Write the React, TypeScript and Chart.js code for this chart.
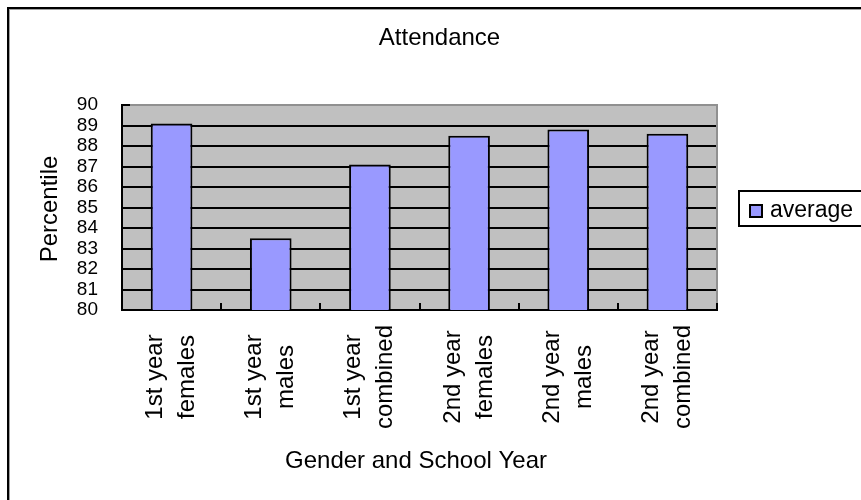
import { useEffect, useRef } from 'react';
import { Chart, registerables } from 'chart.js';

Chart.register(...registerables);

const chartTitle = 'Attendance';
const xAxisTitle = 'Gender and School Year';
const yAxisTitle = 'Percentile';
const seriesName = 'average';
const categoryLines: string[][] = [
  ['1st year', 'females'],
  ['1st year', 'males'],
  ['1st year', 'combined'],
  ['2nd year', 'females'],
  ['2nd year', 'males'],
  ['2nd year', 'combined'],
];
const averageValues = [89.1, 83.5, 87.1, 88.5, 88.8, 88.6];
const yMin = 80;
const yMax = 90;
const yStep = 1;

const FONT = '"Liberation Sans", Arial, sans-serif';
const BAR_FILL = '#9999FF';
const PLOT_BG = '#C0C0C0';
const FRAME_GRAY = '#909090';

export default function App() {
  const ref = useRef<HTMLCanvasElement>(null);

  useEffect(() => {
    const canvas = ref.current!;

    const decor = {
      id: 'decor',
      beforeDraw(chart: any) {
        const { ctx, chartArea: a } = chart;
        ctx.save();
        ctx.fillStyle = PLOT_BG;
        ctx.fillRect(a.left, a.top, a.right - a.left, a.bottom - a.top);
        ctx.restore();
      },
      afterDraw(chart: any) {
        const { ctx, chartArea: a } = chart;
        const xs = chart.scales.x;
        ctx.save();

        // page frame (left/top)
        ctx.fillStyle = '#000';
        ctx.fillRect(7, 7, 2, 493);
        ctx.fillRect(7, 7, 854, 2);
        ctx.fillStyle = '#A0A0A0';
        ctx.fillRect(9, 9, 1, 491);
        ctx.fillRect(9, 9, 852, 1);

        // right frame of plot (gray)
        ctx.fillStyle = FRAME_GRAY;
        ctx.fillRect(a.right - 1, a.top - 1, 2, a.bottom - a.top);

        // inward tick at top of value axis
        ctx.fillStyle = '#000';
        ctx.fillRect(a.left, a.top - 1, 8, 2);

        // inward category boundary ticks
        const half = (xs.getPixelForValue(1) - xs.getPixelForValue(0)) / 2;
        for (let i = 0; i < categoryLines.length; i++) {
          const bx = xs.getPixelForValue(i) + half;
          ctx.fillRect(Math.round(bx) - 1, a.bottom - 7, 2, 7);
        }

        ctx.fillStyle = '#000';
        // chart title
        ctx.font = `24px ${FONT}`;
        ctx.textAlign = 'center';
        ctx.textBaseline = 'alphabetic';
        ctx.fillText(chartTitle, 439.5, 45);

        // x axis title
        ctx.fillText(xAxisTitle, (a.left + a.right) / 2 - 3.5, 468);

        // y axis title
        ctx.save();
        ctx.translate(57, (a.top + a.bottom) / 2 + 1.5);
        ctx.rotate(-Math.PI / 2);
        ctx.fillText(yAxisTitle, 0, 0);
        ctx.restore();

        // category labels, rotated, lines centered
        const labelCenterY = 377;
        categoryLines.forEach((lines, i) => {
          const c = xs.getPixelForValue(i);
          lines.forEach((line, j) => {
            ctx.save();
            ctx.translate(c - 9.5 + j * 32, labelCenterY);
            ctx.rotate(-Math.PI / 2);
            ctx.fillText(line, 0, 0);
            ctx.restore();
          });
        });

        // legend
        const ds = chart.data.datasets[0];
        ctx.lineWidth = 2;
        ctx.strokeStyle = '#000';
        ctx.strokeRect(739, 191, 140, 35);
        ctx.fillStyle = ds.backgroundColor;
        ctx.fillRect(750, 205, 12, 12);
        ctx.strokeRect(750, 205, 12, 12);
        ctx.fillStyle = '#000';
        ctx.font = `23px ${FONT}`;
        ctx.textAlign = 'left';
        ctx.fillText(ds.label, 770, 217);

        ctx.restore();
      },
    };

    const chart = new Chart(canvas, {
      type: 'bar',
      data: {
        labels: categoryLines.map((l) => l.join(' ')),
        datasets: [
          {
            label: seriesName,
            data: averageValues,
            backgroundColor: BAR_FILL,
            borderColor: '#000',
            borderWidth: 2,
            borderSkipped: false,
            barPercentage: 0.42,
            categoryPercentage: 1,
          },
        ],
      },
      options: {
        responsive: false,
        animation: false,
        layout: { padding: { left: 0, top: 105, right: 144, bottom: 0 } },
        plugins: {
          legend: { display: false },
          title: { display: false },
          tooltip: { enabled: false },
        },
        scales: {
          x: {
            grid: { display: false },
            border: { display: true, color: '#000', width: 2 },
            ticks: { display: false },
            afterFit(scale: any) {
              scale.height = 190;
              scale.paddingLeft = 0;
              scale.paddingRight = 0;
            },
          },
          y: {
            min: yMin,
            max: yMax,
            grid: {
              drawTicks: false,
              color: (ctx: any) => (ctx.tick && ctx.tick.value === yMax ? FRAME_GRAY : '#000'),
              lineWidth: 2,
            },
            border: { display: true, color: '#000', width: 2 },
            ticks: {
              stepSize: yStep,
              autoSkip: false,
              padding: 24,
              color: '#000',
              font: { family: FONT, size: 19 },
            },
            afterFit(scale: any) {
              scale.width = 122;
              scale.paddingTop = 0;
              scale.paddingBottom = 0;
            },
          },
        },
      },
      plugins: [decor],
    });

    return () => chart.destroy();
  }, []);

  return (
    <canvas
      ref={ref}
      width={861}
      height={500}
      style={{ position: 'fixed', left: 0, top: 0, width: 861, height: 500 }}
    />
  );
}
